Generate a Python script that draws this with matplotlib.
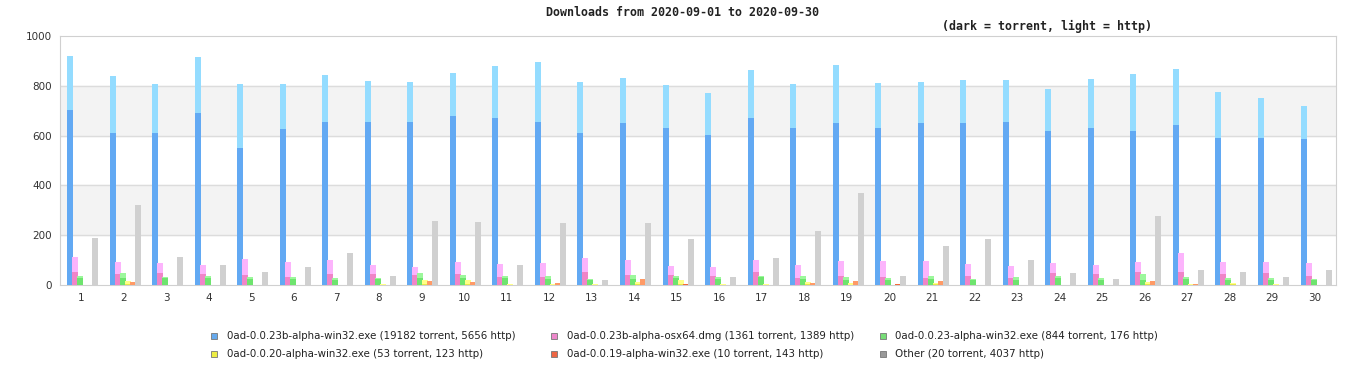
import numpy as np
import matplotlib.pyplot as plt
from matplotlib.patches import Rectangle

days = list(range(1, 31))

# torrent (dark) and http (light) downloads per day for each file
win23b_torrent = [703, 610, 610, 691, 550, 627, 655, 655, 655, 679, 671, 655, 610, 651, 631,
                  602, 671, 631, 651, 631, 651, 651, 655, 618, 631, 618, 643, 590, 590, 586]
win23b_http = [217, 229, 197, 225, 257, 180, 188, 164, 160, 172, 209, 241, 205, 180, 172,
               169, 192, 176, 233, 180, 164, 172, 168, 169, 196, 229, 224, 185, 161, 133]
osx_torrent = [52, 44, 48, 44, 40, 32, 44, 44, 40, 44, 32, 32, 52, 40, 40,
               36, 52, 28, 36, 32, 28, 36, 28, 48, 44, 52, 52, 44, 48, 36]
osx_http = [60, 48, 40, 36, 64, 60, 56, 36, 32, 48, 52, 56, 56, 60, 36,
            36, 48, 52, 60, 64, 68, 48, 48, 40, 36, 40, 77, 48, 44, 52]
win23_torrent = [30, 30, 30, 30, 26, 26, 22, 26, 30, 30, 30, 24, 22, 26, 30,
                 26, 34, 26, 22, 22, 26, 22, 22, 30, 22, 22, 26, 22, 22, 22]
win23_http = [6, 18, 2, 6, 6, 6, 6, 2, 18, 10, 6, 12, 2, 14, 6,
              6, 2, 10, 10, 6, 10, 2, 10, 6, 6, 22, 6, 6, 6, 2]
win20_torrent = [0, 4, 0, 0, 0, 0, 0, 0, 4, 4, 0, 0, 0, 4, 4,
                 0, 0, 4, 0, 0, 4, 0, 0, 0, 0, 4, 0, 4, 0, 0]
win20_http = [0, 12, 0, 0, 0, 0, 0, 4, 16, 16, 4, 4, 4, 8, 16,
              4, 4, 8, 8, 0, 4, 0, 0, 0, 0, 8, 4, 4, 4, 0]
win19_torrent = [0, 0, 0, 0, 0, 0, 0, 0, 0, 0, 0, 0, 0, 0, 4,
                 0, 0, 0, 0, 4, 0, 0, 0, 0, 0, 0, 0, 0, 0, 0]
win19_http = [0, 12, 0, 0, 0, 0, 0, 0, 16, 12, 0, 8, 0, 24, 0,
              0, 0, 8, 16, 0, 16, 0, 0, 0, 0, 16, 4, 0, 0, 0]
other_torrent = [0, 2, 0, 0, 0, 0, 0, 0, 2, 2, 0, 2, 0, 2, 2,
                 0, 0, 2, 2, 0, 0, 2, 0, 0, 0, 2, 0, 0, 0, 0]
other_http = [189, 319, 112, 80, 52, 72, 128, 36, 255, 251, 80, 247, 20, 247, 183,
              32, 108, 215, 367, 36, 157, 183, 100, 48, 24, 275, 60, 52, 32, 60]

labels = ['0ad-0.0.23b-alpha-win32.exe (19182 torrent, 5656 http)',
          '0ad-0.0.23b-alpha-osx64.dmg (1361 torrent, 1389 http)',
          '0ad-0.0.23-alpha-win32.exe (844 torrent, 176 http)',
          '0ad-0.0.20-alpha-win32.exe (53 torrent, 123 http)',
          '0ad-0.0.19-alpha-win32.exe (10 torrent, 143 http)',
          'Other (20 torrent, 4037 http)']

series = [(win23b_torrent, win23b_http), (osx_torrent, osx_http), (win23_torrent, win23_http),
          (win20_torrent, win20_http), (win19_torrent, win19_http), (other_torrent, other_http)]
dark = ['#62a9f3', '#f084c8', '#6ee46e', '#e8e84a', '#f4683a', '#a8a8a8']
light = ['#94dcff', '#fcb4fc', '#9cf79c', '#ffff88', '#ff9a66', '#d0d0d0']
legend_col = ['#66aaee', '#ee88cc', '#77dd77', '#eeee44', '#ee6644', '#999999']

fig = plt.figure(figsize=(13.66, 3.8), dpi=100)
ax = fig.add_axes([60/1366, 1-285/380, 1276/1366, 249/380])

x = np.arange(len(days))
step = 5/42.53
width = 6/42.53
for k, (tor, htp) in enumerate(series):
    pos = x + (k-2.5)*step + 0.03
    ax.bar(pos, tor, width=width, color=dark[k], linewidth=0, zorder=3)
    ax.bar(pos, htp, width=width, bottom=tor, color=light[k], linewidth=0, zorder=3)

# alternating bands and grid
for lo in [200, 600]:
    ax.axhspan(lo, lo+200, color='#f3f3f3', zorder=0)
for y in [200, 400, 600, 800]:
    ax.axhline(y, color='#dcdcdc', lw=1, zorder=1)

ax.set_xlim(-0.5, 29.5)
ax.set_ylim(0, 1000)
ax.set_xticks(x)
ax.set_xticklabels([str(d) for d in days])
ax.set_yticks(range(0, 1001, 200))
ax.tick_params(length=0, labelsize=7.5, colors='#333333', pad=6)
for s in ax.spines.values():
    s.set_color('#d0d0d0')

fig.text(683/1366, 1-13/380, 'Downloads from 2020-09-01 to 2020-09-30', ha='center', va='center',
         family='DejaVu Sans Mono', fontweight='bold', fontsize=8.4, color='#222222')
fig.text(1047/1366, 1-26/380, '(dark = torrent, light = http)', ha='center', va='center',
         family='DejaVu Sans Mono', fontweight='bold', fontsize=8.4, color='#222222')

# legend drawn by hand, 3 columns x 2 rows
sq_x = [211, 551, 880]
txt_x = [227, 567, 895]
row_y = [336, 354]
for i, lab in enumerate(labels):
    c = i % 3
    cy = row_y[i // 3]
    fig.patches.append(Rectangle((sq_x[c]/1366, 1-(cy+3)/380), 6/1366, 6/380,
                                 transform=fig.transFigure, facecolor=legend_col[i],
                                 edgecolor='#777777', lw=0.6))
    fig.text(txt_x[c]/1366, 1-cy/380, lab, ha='left', va='center',
             family='DejaVu Sans', fontsize=7.4, color='#222222')

fig.savefig('out.png', dpi=100)
